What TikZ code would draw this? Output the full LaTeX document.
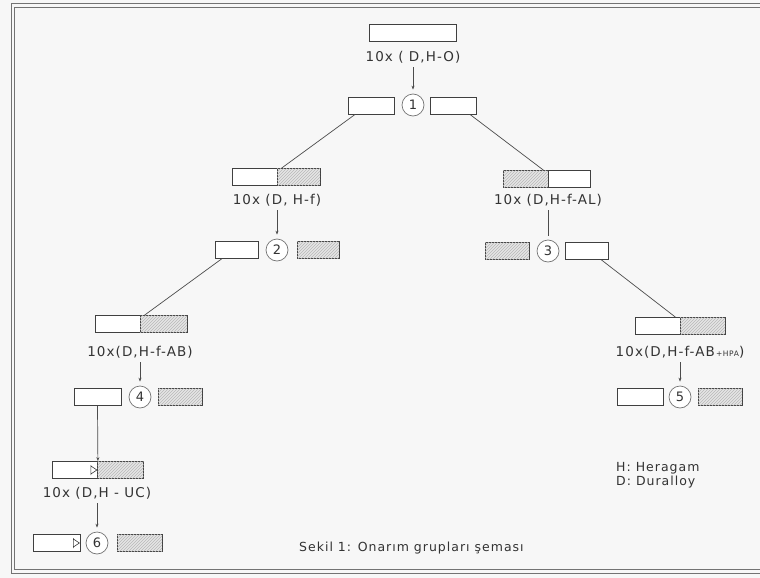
\documentclass[tikz,border=0pt]{standalone}
\usepackage{fontspec}
\setmainfont{DejaVu Sans}
\newfontfamily\lsfont[LetterSpace=8]{DejaVu Sans}
\usetikzlibrary{patterns,arrows.meta,calc}
\begin{document}
\begin{tikzpicture}[x=1pt,y=-1pt,
  wbox/.style={draw=black!75,line width=0.8pt,fill=white,minimum height=17pt,inner sep=0pt},
  hbox/.style={wbox,fill=black!10,postaction={pattern=north east lines,pattern color=black!28}},
  num/.style={circle,draw=black!55,line width=0.7pt,fill=white,minimum size=22pt,inner sep=0pt,font=\fontsize{13}{14}\selectfont,text=black!80},
  lbl/.style={font=\lsfont\fontsize{13.5}{15}\selectfont,text=black!80,inner sep=1pt},
  small/.style={font=\lsfont\fontsize{12.5}{14}\selectfont,text=black!80,inner sep=1pt},
  con/.style={draw=black!70,line width=0.7pt},
  arr/.style={con,-{Stealth[length=4pt,width=3pt]},shorten >=4pt,shorten <=3pt},
  flag/.pic={\draw[black!75,line width=0.6pt] (0,-5) -- (0,5) (0,-4) -- (6,0) -- (0,4);}
]
\useasboundingbox (0,0) rectangle (760,578);
\fill[black!3] (0,0) rectangle (760,578);
% frame
\draw[black!55,line width=1pt] (760,4) -- (11,4) -- (11,573) -- (760,573);
\draw[black!55,line width=0.8pt] (760,7.5) -- (14.5,7.5) -- (14.5,569.5) -- (760,569.5);

% level 0
\node[wbox,minimum width=87pt] (T) at (412.5,33) {};
\node[lbl] (LT) at (413,57) {10x ( D,H-O)};
\node[num] (c1) at (413,105) {1};
\node[wbox,minimum width=46pt] (b1L) at (371.5,105.5) {};
\node[wbox,minimum width=46pt] (b1R) at (453.5,105.5) {};
\draw[arr] (LT.south) -- (c1.north);

% level 1 left
\node[wbox,minimum width=45pt] (Aw) at (254.5,177) {};
\node[hbox,minimum width=43pt] (Ah) at (298.5,177) {};
\node[lbl] (LA) at (277,200) {10x (D, H-f)};
\node[num] (c2) at (277,250) {2};
\node[wbox,minimum width=43pt] (b2L) at (236.5,250) {};
\node[hbox,minimum width=42pt] (b2R) at (318,250) {};
\draw[arr] (LA.south) -- (c2.north);
\draw[con] ($(b1L.south west)+(7,0)$) -- ($(Ah.north west)+(5,0)$);

% level 1 right
\node[hbox,minimum width=45pt] (Bh) at (525.5,179) {};
\node[wbox,minimum width=42pt] (Bw) at (569,179) {};
\node[lbl] (LB) at (548,200) {10x (D,H-f-AL)};
\node[num] (c3) at (548,251) {3};
\node[hbox,minimum width=44pt] (b3L) at (507,251) {};
\node[wbox,minimum width=43pt] (b3R) at (586.5,251) {};
\draw[con,shorten >=4pt,shorten <=3pt] (LB.south) -- (c3.north);
\draw[con] ($(b1R.south east)+(-7,0)$) -- ($(Bh.north east)+(-5,0)$);

% level 2 left
\node[wbox,minimum width=45pt] (Cw) at (117.5,324) {};
\node[hbox,minimum width=47pt] (Ch) at (163.5,324) {};
\node[lbl] (LC) at (140,352) {10x(D,H-f-AB)};
\node[num] (c4) at (140,397) {4};
\node[wbox,minimum width=47pt] (b4L) at (97.5,397) {};
\node[hbox,minimum width=44pt] (b4R) at (180,397) {};
\draw[arr] (LC.south) -- (c4.north);
\draw[con] ($(b2L.south west)+(7,0)$) -- ($(Ch.north west)+(5,0)$);

% level 2 right
\node[wbox,minimum width=45pt] (Dw) at (657.5,326) {};
\node[hbox,minimum width=45pt] (Dh) at (702.5,326) {};
\node[lbl] (LD) at (680,352) {10x(D,H-f-AB{\fontsize{7.5}{8}\selectfont\,+HPA})};
\node[num] (c5) at (680,397) {5};
\node[wbox,minimum width=46pt] (b5L) at (640,397) {};
\node[hbox,minimum width=44pt] (b5R) at (720,397) {};
\draw[arr] (LD.south) -- (c5.north);
\draw[con] ($(b3R.south east)+(-7,0)$) -- ($(Dw.north east)+(-5,0)$);

% level 3
\node[wbox,minimum width=45.5pt] (Ew) at (74.75,470) {};
\node[hbox,minimum width=46pt] (Eh) at (120.5,470) {};
\pic at ($(Ew.east)+(-7,0)$) {flag};
\draw[con,-{Stealth[length=4pt,width=3pt]}] (b4L.south) -- (Ew.north east);
\node[lbl] (LE) at (97,493) {10x (D,H - UC)};
\node[num] (c6) at (97,543) {6};
\node[wbox,minimum width=47pt] (b6L) at (56.5,543) {};
\node[hbox,minimum width=45pt] (b6R) at (139.5,543) {};
\pic at ($(b6L.east)+(-7,0)$) {flag};
\draw[arr] (LE.south) -- (c6.north);

% legend and caption
\node[small,anchor=west] (lgH) at (615,468) {H: Heragam};
\node[small,anchor=west] (lgD) at (615,482) {D: Duralloy};
\node[small,anchor=west] (cap) at (298,548) {Sekil 1: Onarım grupları şeması};
\end{tikzpicture}
\end{document}
